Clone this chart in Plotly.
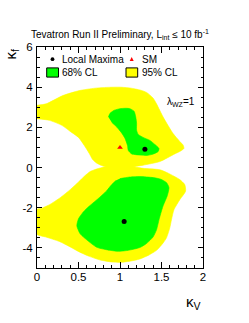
import plotly.graph_objects as go

# ---- data (kappa_V, kappa_f) contour boundaries ----
y95_up_kv = [0.00, 0.11, 0.31, 0.51, 0.70, 0.84, 1.00, 1.12, 1.25, 1.32, 1.40, 1.44, 1.52, 1.64, 1.72, 1.76, 1.77,
             1.72, 1.66, 1.48, 1.28, 1.12, 1.00, 0.85, 0.78, 0.72, 0.67, 0.63, 0.57, 0.50, 0.40, 0.30, 0.15, 0.00]
y95_up_kf = [3.10, 3.17, 3.58, 3.83, 3.95, 3.99, 4.00, 3.96, 3.85, 3.74, 3.45, 3.17, 2.51, 1.69, 1.30, 1.12, 0.95,
             0.80, 0.68, 0.30, 0.12, 0.02, -0.02, 0.02, 0.10, 0.22, 0.40, 0.70, 1.10, 1.50, 1.80, 2.10, 2.35, 2.43]

y95_lo_kv = [1.00, 0.85, 0.78, 0.70, 0.64, 0.58, 0.50, 0.40, 0.28, 0.15, 0.06, 0.00, 0.00, 0.10, 0.27, 0.40, 0.51,
             0.63, 0.76, 0.90, 1.00, 1.12, 1.24, 1.35, 1.44, 1.52, 1.56, 1.60, 1.62, 1.65, 1.72, 1.79, 1.78, 1.72,
             1.58, 1.48, 1.28, 1.12]
y95_lo_kf = [0.10, 0.08, 0.00, -0.10, -0.20, -0.40, -0.72, -1.10, -1.50, -1.85, -2.02, -2.08, -3.32, -3.45, -3.68,
             -3.95, -4.20, -4.42, -4.60, -4.70, -4.72, -4.66, -4.55, -4.35, -4.12, -3.75, -3.50, -3.00, -2.60, -2.10,
             -1.60, -1.18, -0.85, -0.60, -0.28, -0.11, -0.04, 0.08]

g68_up_kv = [0.86, 0.88, 0.93, 1.00, 1.07, 1.12, 1.17, 1.19, 1.20, 1.20, 1.22, 1.28, 1.36, 1.42, 1.47, 1.46, 1.40,
             1.32, 1.24, 1.14, 1.10, 1.09, 1.06, 1.02, 0.96, 0.90]
g68_up_kf = [2.51, 2.70, 2.85, 2.93, 2.95, 2.93, 2.80, 2.51, 2.20, 1.86, 1.65, 1.50, 1.35, 1.15, 0.95, 0.80, 0.67,
             0.60, 0.62, 0.68, 0.85, 1.10, 1.45, 1.72, 2.02, 2.25]

g68_lo_kv = [1.00, 1.10, 1.24, 1.40, 1.49, 1.56, 1.59, 1.57, 1.52, 1.49, 1.47, 1.44, 1.40, 1.32, 1.24, 1.10, 0.98,
             0.85, 0.72, 0.60, 0.52, 0.48, 0.50, 0.56, 0.63, 0.75, 0.84, 0.90, 0.95]
g68_lo_kf = [-0.55, -0.48, -0.45, -0.50, -0.58, -0.75, -1.00, -1.40, -1.90, -2.30, -2.60, -3.10, -3.45, -3.78, -3.98,
             -4.12, -4.17, -4.10, -3.97, -3.60, -3.30, -2.90, -2.55, -2.20, -1.92, -1.50, -1.15, -0.85, -0.65]

max_kv = [1.30, 1.05]
max_kf = [0.91, -2.69]
sm_kv = [1.0]
sm_kf = [1.0]

x_ticks = [0, 0.5, 1, 1.5, 2]
x_ticklabels = ["0", "0.5", "1", "1.5", "2"]
y_ticks = [-4, -2, 0, 2, 4, 6]
y_ticklabels = ["-4", "-2", "0", "2", "4", "6"]

YELLOW = "#ffff00"
GREEN = "#00ff00"
FONT = "Liberation Sans, Arial, sans-serif"

fig = go.Figure()
for xs, ys, c in [(y95_up_kv, y95_up_kf, YELLOW), (y95_lo_kv, y95_lo_kf, YELLOW),
                  (g68_up_kv, g68_up_kf, GREEN), (g68_lo_kv, g68_lo_kf, GREEN)]:
    fig.add_trace(go.Scatter(x=xs, y=ys, mode="lines", fill="toself", fillcolor=c,
                             line=dict(width=0.6, color=c, shape="spline", smoothing=0.6),
                             hoverinfo="skip", showlegend=False))
fig.add_trace(go.Scatter(x=max_kv, y=max_kf, mode="markers",
                         marker=dict(symbol="circle", size=5, color="black"), showlegend=False))
fig.add_trace(go.Scatter(x=sm_kv, y=sm_kf, mode="markers",
                         marker=dict(symbol="triangle-up", size=5, color="red"), showlegend=False))

L, R, T, B = 37, 203, 47, 268
W, H = 249, 323
pw, ph = R - L, B - T


def px(x):
    return (x - L) / pw


def py(y):
    return (B - y) / ph


axis_common = dict(showline=True, linecolor="black", linewidth=1, mirror="allticks", automargin=False,
                   ticks="inside", tickcolor="black", tickwidth=1, showgrid=False, zeroline=False,
                   tickfont=dict(family=FONT, size=11.5, color="black"))
fig.update_xaxes(range=[0, 2], tickvals=x_ticks, ticktext=x_ticklabels, ticklen=6,
                 minor=dict(dtick=0.1, ticks="inside", ticklen=3, tickcolor="black", showgrid=False),
                 ticklabelstandoff=-2, **axis_common)
fig.update_yaxes(range=[-5, 6], tickvals=y_ticks, ticktext=y_ticklabels, ticklen=5,
                 minor=dict(dtick=0.5, ticks="inside", ticklen=2.5, tickcolor="black", showgrid=False),
                 ticklabelstandoff=1, **axis_common)

ann = [
    dict(x=px(29), y=py(34), text="Tevatron Run II Preliminary, L<sub>int</sub> ≤ 10 fb<sup>-1</sup>",
         xanchor="left", yanchor="middle", font=dict(size=10)),
    dict(x=px(203), y=py(302), text="κ<sub>V</sub>", xanchor="right", yanchor="middle", font=dict(size=15)),
    dict(x=px(11), y=py(47), text="κ<sub>f</sub>", textangle=-90, xanchor="center", yanchor="top",
         font=dict(size=15)),
    dict(x=px(197), y=py(102), text="λ<sub>WZ</sub>=1", xanchor="right", yanchor="middle", font=dict(size=10)),
    dict(x=px(60), y=py(59), text="Local Maxima", xanchor="left", yanchor="middle", font=dict(size=10)),
    dict(x=px(139.5), y=py(59), text="SM", xanchor="left", yanchor="middle", font=dict(size=10)),
    dict(x=px(60), y=py(72.5), text="68% CL", xanchor="left", yanchor="middle", font=dict(size=10)),
    dict(x=px(139.5), y=py(72.5), text="95% CL", xanchor="left", yanchor="middle", font=dict(size=10)),
]
for a in ann:
    a.update(xref="paper", yref="paper", showarrow=False)
    a["font"].update(family=FONT, color="black")

shapes = [
    dict(type="rect", x0=px(46.7), x1=px(58.5), y0=py(67.9), y1=py(77.1), fillcolor=GREEN,
         line=dict(color="black", width=1)),
    dict(type="rect", x0=px(126), x1=px(137.7), y0=py(67.9), y1=py(77.1), fillcolor=YELLOW,
         line=dict(color="black", width=1)),
    dict(type="circle", x0=px(50.6), x1=px(54.4), y0=py(57.3), y1=py(61.1), fillcolor="black",
         line=dict(color="black", width=0)),
    dict(type="path", path=f"M {px(129.7)} {py(61)} L {px(133.7)} {py(61)} L {px(131.7)} {py(57)} Z",
         fillcolor="red", line=dict(color="red", width=0)),
]
for s in shapes:
    s.update(xref="paper", yref="paper")

fig.update_layout(template="none", width=W, height=H, margin=dict(l=L, r=W - R, t=T, b=H - B, pad=0),
                  plot_bgcolor="white", paper_bgcolor="white", showlegend=False,
                  annotations=ann, shapes=shapes, font=dict(family=FONT, color="black"))
fig.write_html("out.html", config={"displayModeBar": False},
               post_script="document.body.style.margin='0';document.body.style.overflow='hidden';")
